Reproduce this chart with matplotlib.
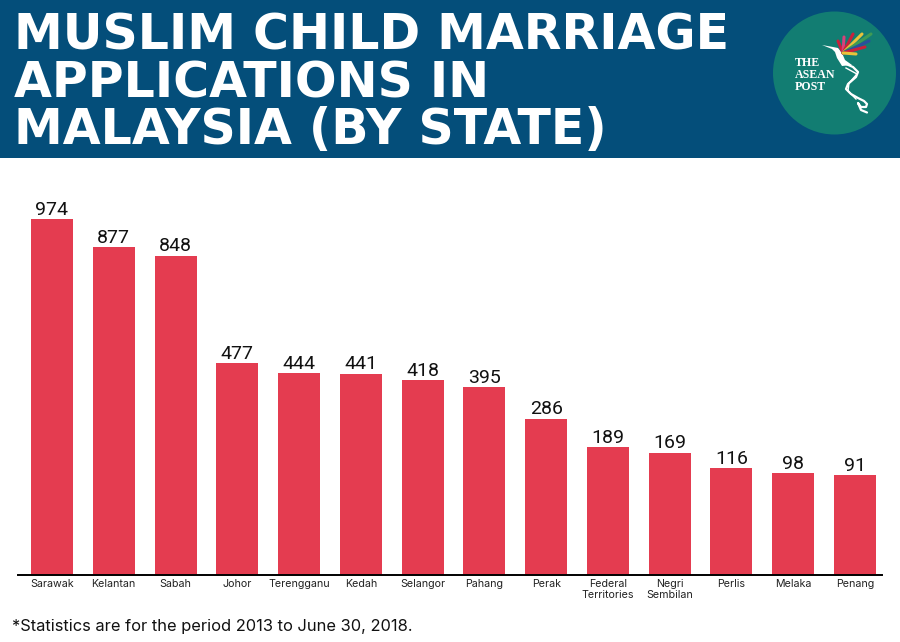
import matplotlib
matplotlib.use("Agg")
import matplotlib.pyplot as plt
from matplotlib.patches import Rectangle, Ellipse, Polygon

states = ["Sarawak", "Kelantan", "Sabah", "Johor", "Terengganu", "Kedah", "Selangor",
          "Pahang", "Perak", "Federal\nTerritories", "Negri\nSembilan", "Perlis", "Melaka", "Penang"]
values = [974, 877, 848, 477, 444, 441, 418, 395, 286, 189, 169, 116, 98, 91]
axis_floor = -250
title_lines = ["MUSLIM CHILD MARRIAGE", "APPLICATIONS IN", "MALAYSIA (BY STATE)"]
note = "*Statistics are for the period 2013 to June 30, 2018."
feather_colors = ["#c8203c", "#d8407a", "#c8203c", "#e8c23a", "#3f9a55", "#2a4f9c", "#c8203c", "#e8c23a"]

W, H = 900, 642
fig = plt.figure(figsize=(9, 6.42), dpi=100, facecolor="white")
FONT = "Inter"

def fx(x): return x / W
def fy(y): return 1 - y / H

bg = fig.add_axes([0, 0, 1, 1], zorder=0)
bg.set_xlim(0, W); bg.set_ylim(H, 0); bg.axis("off")
bg.add_patch(Rectangle((0, 0), W, 158, fc="#044e7a", ec="none"))

for line, y in zip(title_lines, [50, 97, 144]):
    bg.text(14, y, line, fontsize=35.3, fontweight="bold", color="white",
            family="DejaVu Sans", va="baseline", ha="left")

# logo
bg.add_patch(Ellipse((834.5, 73), 123, 123, fc="#127d72", ec="none"))
for line, y in zip(["THE", "ASEAN", "POST"], [63, 75.5, 87.5]):
    bg.text(794.5, y, line, fontsize=8.6, fontweight="bold", color="white",
            family="Liberation Serif", va="center", ha="left")
# bird: head and body, then the curling tail
bg.add_patch(Polygon([(822, 45), (833, 47), (838, 48), (842, 53), (845, 60), (852, 65), (842, 66),
                      (837, 58), (835, 52), (832, 49)], closed=True, fc="white", ec="none"))
tail_x = [846, 853, 858, 856, 848, 846, 851, 858, 864, 867, 866, 861, 858, 861, 867]
tail_y = [64, 67, 72, 77, 84, 89, 94, 98, 101, 104, 107, 107, 103, 110, 112.5]
bg.plot(tail_x, tail_y, color="white", lw=1.6, solid_capstyle="round", solid_joinstyle="round")
bg.plot([846, 857, 849, 848, 856], [68, 74, 83, 91, 99], color="white", lw=1.0)
for (x2, y2), c in zip([(838, 41), (844, 37), (853, 34), (862, 34), (871, 34), (869, 41), (865, 47), (856, 54)],
                       feather_colors):
    bg.plot([843, x2], [53, y2], color=c, lw=2.2, solid_capstyle="round")

# chart
left, right, top, base = 18, 882, 170, 574.5
scale = 0.2905
ax = fig.add_axes([fx(left), fy(base), (right - left) / W, (base - top) / H], zorder=1)
ax.patch.set_alpha(0)
ax.set_xlim(-0.55, 13.437)
ax.set_ylim(axis_floor, axis_floor + (base - top) / scale)
ax.bar(range(len(values)), [v - axis_floor for v in values], bottom=axis_floor, width=0.68, color="#e43c50")
for i, v in enumerate(values):
    ax.text(i, v + 15, str(v), ha="center", va="baseline", fontsize=14, color="#111111", family="Roboto")
for s in ["top", "left", "right"]:
    ax.spines[s].set_visible(False)
ax.spines["bottom"].set_linewidth(1.4)
ax.spines["bottom"].set_color("black")
ax.set_yticks([])
ax.set_xticks(range(len(states)))
ax.set_xticklabels(states, fontsize=7.7, color="#222222", family=FONT, linespacing=1.15)
ax.tick_params(axis="x", length=0, pad=3)

bg.text(12, 627, note, fontsize=11.85, color="#111111", family=FONT, va="center", ha="left")

fig.savefig("out.png", dpi=100)
